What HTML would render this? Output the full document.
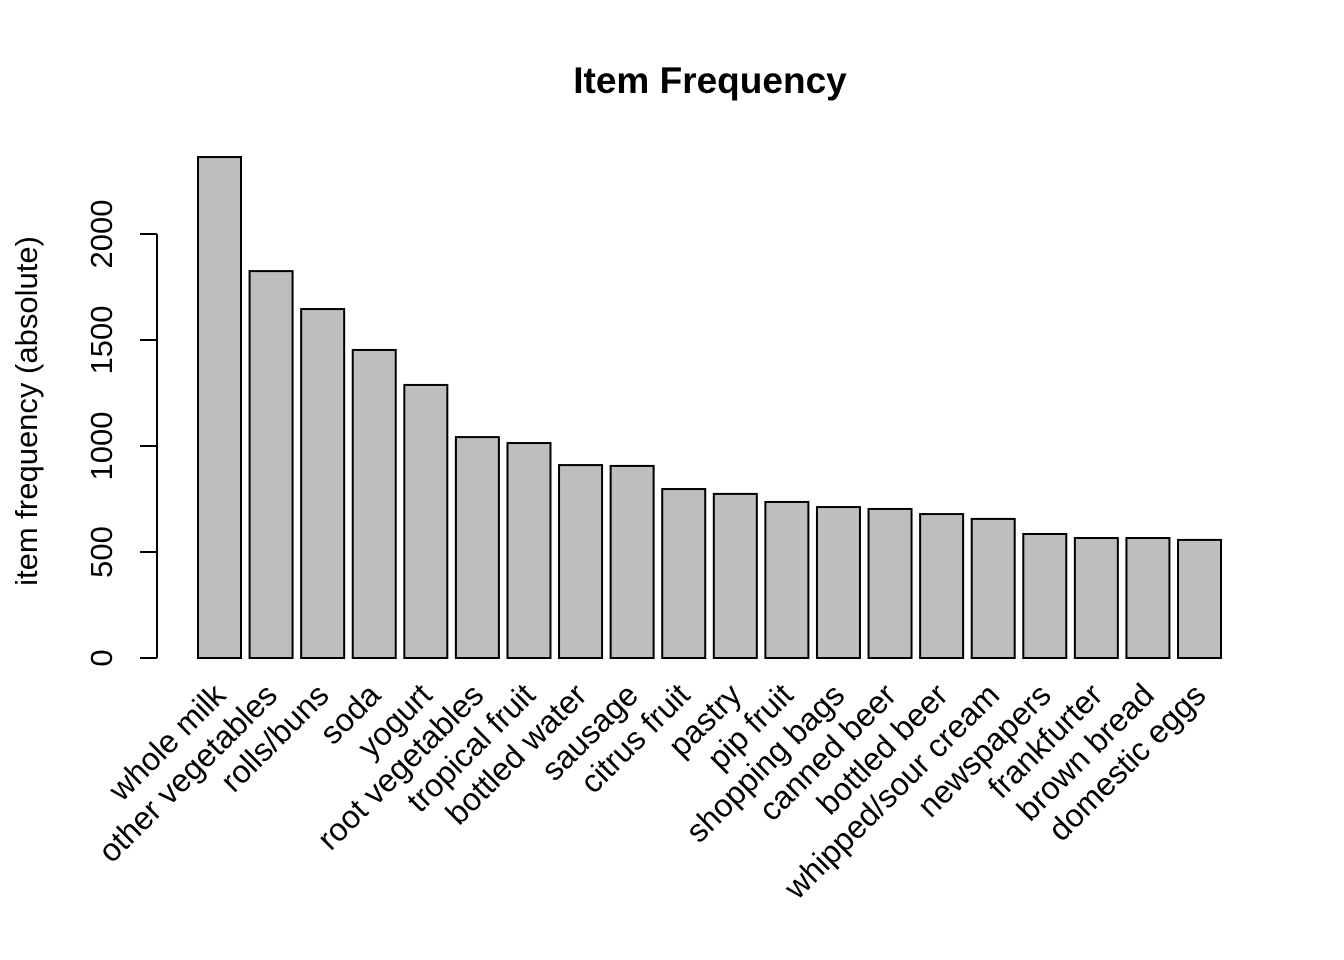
<!DOCTYPE html>
<html><head><meta charset="utf-8"><style>
body{margin:0;background:#fff}
svg{display:block;font-family:"Liberation Sans",Arial,sans-serif}
</style></head><body>
<svg id="chart" width="1344" height="960" viewBox="0 0 1344 960">
<rect width="1344" height="960" fill="#fff"/>
<text x="710" y="93" text-anchor="middle" font-size="37" font-weight="bold">Item Frequency</text>
<text transform="translate(37,411) rotate(-90)" text-anchor="middle" font-size="31">item frequency (absolute)</text>
<g id="yaxis"></g>
<g id="bars"></g>
<g id="xlabels"></g>
</svg>
<script>
const categories = ["whole milk","other vegetables","rolls/buns","soda","yogurt","root vegetables","tropical fruit","bottled water","sausage","citrus fruit","pastry","pip fruit","shopping bags","canned beer","bottled beer","whipped/sour cream","newspapers","frankfurter","brown bread","domestic eggs"];
const values = [2363,1825,1646,1453,1288,1042,1014,910,906,797,774,736,712,703,679,656,585,566,566,557];
const yTicks = [0,500,1000,1500,2000];

const NS="http://www.w3.org/2000/svg";
const y0=658, pxPer=0.212;
function y(v){return y0 - v*pxPer;}
const x0=198, step=51.58, bw=43;
function x(i){return x0 + i*step;}
function mk(tag,attrs,parent){const e=document.createElementNS(NS,tag);for(const k in attrs)e.setAttribute(k,attrs[k]);parent.appendChild(e);return e;}

const ya=document.getElementById('yaxis');
const axl=mk('line',{x1:157,x2:157,y1:y(yTicks[yTicks.length-1]),y2:y(0),stroke:'#000','stroke-width':2},ya);


yTicks.forEach(t=>{
  const tk=mk('line',{x1:140,x2:157,y1:y(t),y2:y(t),stroke:'#000','stroke-width':2},ya);
  
  
  const tl=mk('text',{transform:`translate(112,${y(t)}) rotate(-90)`,'text-anchor':'middle','font-size':31},ya);
  tl.textContent=t;
  
  
});

const bg=document.getElementById('bars'), xl=document.getElementById('xlabels');
categories.forEach((c,i)=>{
  const r=mk('rect',{x:x(i),y:y(values[i]),width:bw,height:y(0)-y(values[i]),fill:'#bebebe',stroke:'#000','stroke-width':2},bg);
  
  
  const cx=x(i)+bw/2+8;
  const t=mk('text',{transform:`translate(${cx},697) rotate(-45)`,'text-anchor':'end','font-size':32},xl);
  t.textContent=c;
  
  
});
</script>
</body></html>
